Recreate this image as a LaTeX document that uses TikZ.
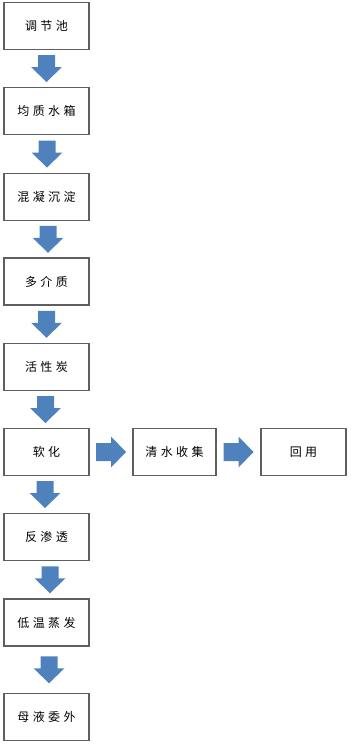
\documentclass[tikz,border=0pt]{standalone}
\usepackage{fontspec}
\newfontfamily\cjk[LetterSpace=28]{Noto Sans CJK SC}
\usetikzlibrary{calc}
\definecolor{arrblue}{RGB}{79,129,189}
\definecolor{boxline}{RGB}{95,95,95}
\tikzset{
  stepbox/.style={draw=boxline,line width=1.1pt,fill=white,minimum width=85pt,minimum height=47pt,inner sep=0pt,font=\cjk\fontsize{12pt}{14pt}\selectfont},
  barrow/.style={fill=arrblue,draw=none}
}
% down block arrow centred between two nodes
\newcommand\blockdown[3]{%
  \coordinate (m) at ($(#1.south)!0.5!(#2.north)+(#3,0)$);
  \fill[barrow] ($(m)+(-8.5,-13.5)$) -- ($(m)+(8.5,-13.5)$) -- ($(m)+(8.5,-1.5)$) -- ($(m)+(15.5,-1.5)$)
     -- ($(m)+(0,13.5)$) -- ($(m)+(-15.5,-1.5)$) -- ($(m)+(-8.5,-1.5)$) -- cycle;}
\newcommand\blockright[2]{%
  \coordinate (m) at ($(#1.east)!0.5!(#2.west)$);
  \fill[barrow] ($(m)+(-15,-9)$) -- ($(m)+(0,-9)$) -- ($(m)+(0,-15.5)$) -- ($(m)+(15,0)$)
     -- ($(m)+(0,15.5)$) -- ($(m)+(0,9)$) -- ($(m)+(-15,9)$) -- cycle;}
\begin{document}
\begin{tikzpicture}[x=1pt,y=-1pt]
\useasboundingbox (0,0) rectangle (352,750);
\node[stepbox] (a) at (46.5,26) {调节池};
\node[stepbox] (b) at (46.5,111) {均质水箱};
\node[stepbox] (c) at (46.5,197) {混凝沉淀};
\node[stepbox] (d) at (46.5,281.5) {多介质};
\node[stepbox] (e) at (46.5,367) {活性炭};
\node[stepbox] (f) at (46.5,452) {软化};
\node[stepbox] (g) at (46.5,537) {反渗透};
\node[stepbox] (h) at (46.5,622.5) {低温蒸发};
\node[stepbox] (i) at (46.5,717) {母液委外};
\node[stepbox,minimum width=83pt] (j) at (174.5,452) {清水收集};
\node[stepbox] (k) at (303.5,452) {回用};
\blockdown{a}{b}{0}
\blockdown{b}{c}{0.5}
\blockdown{c}{d}{1.5}
\blockdown{d}{e}{0}
\blockdown{e}{f}{-1}
\blockdown{f}{g}{-1.5}
\blockdown{g}{h}{3.5}
\blockdown{h}{i}{2.5}
\blockright{f}{j}
\blockright{j}{k}
\end{tikzpicture}
\end{document}
